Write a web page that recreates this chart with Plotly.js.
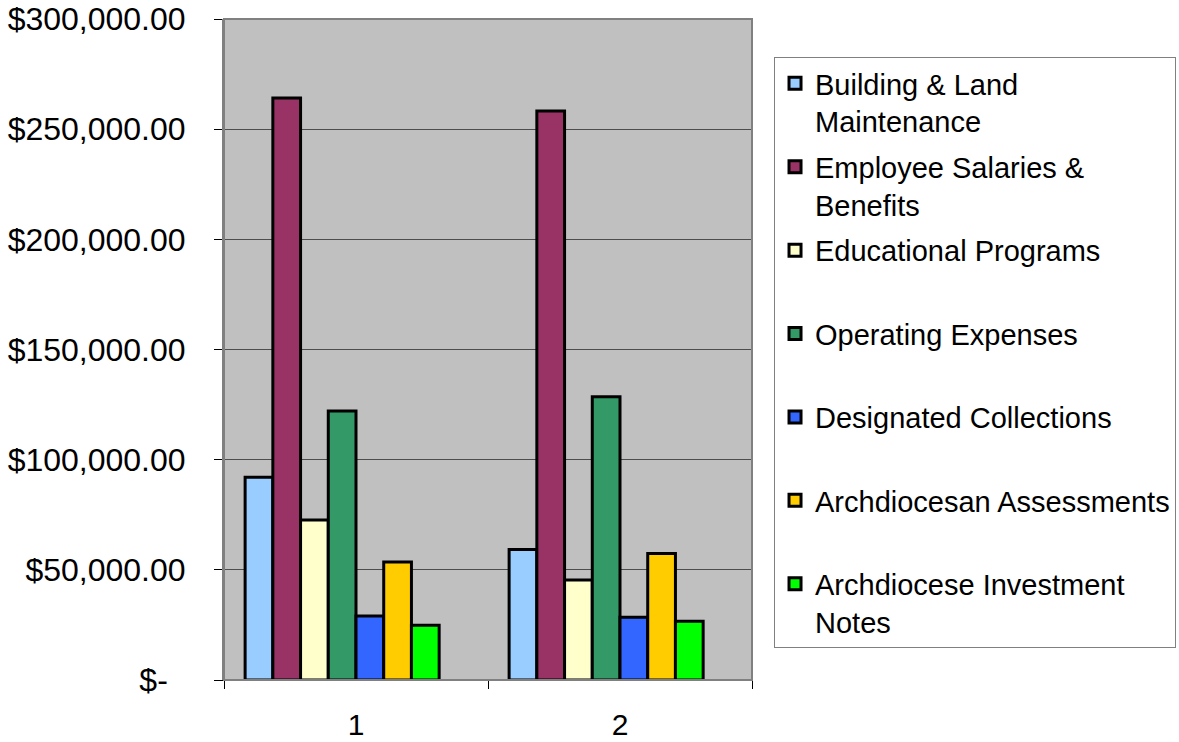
<!DOCTYPE html>
<html>
<head>
<meta charset="utf-8">
<script src="https://cdn.plot.ly/plotly-3.0.1.min.js"></script>
<style>html,body{margin:0;padding:0;background:#fff;}#chart{width:1179px;height:742px;}</style>
</head>
<body>
<div id="chart"></div>
<script>
var categories = ["1", "2"];
var seriesNames = [
  "Building & Land<br>Maintenance",
  "Employee Salaries &<br>Benefits",
  "Educational Programs<br>&nbsp;",
  "Operating Expenses<br>&nbsp;",
  "Designated Collections<br>&nbsp;",
  "Archdiocesan Assessments<br>&nbsp;",
  "Archdiocese Investment<br>Notes"
];
var buildingLand = [92000, 59200];
var employeeSalaries = [264200, 258200];
var educationalPrograms = [72600, 45400];
var operatingExpenses = [122100, 128500];
var designatedCollections = [29000, 28500];
var archdiocesanAssessments = [53600, 57400];
var investmentNotes = [24900, 26700];
var yTickVals = [0, 50000, 100000, 150000, 200000, 250000, 300000];
var yTickText = ["$-\u00a0\u00a0", "$50,000.00", "$100,000.00", "$150,000.00", "$200,000.00", "$250,000.00", "$300,000.00"];

var seriesValues = [buildingLand, employeeSalaries, educationalPrograms, operatingExpenses, designatedCollections, archdiocesanAssessments, investmentNotes];
var colors = ["#99CCFF", "#993366", "#FFFFCC", "#339966", "#3366FF", "#FFCC00", "#00FF00"];

// Excel-style grouping: 8 slots per category (last slot empty), each slot 0.105 of a category
var slotWidth = 0.105;
var slotCount = 8;

var traces = seriesValues.map(function (vals, i) {
  return {
    type: "bar",
    name: seriesNames[i],
    x: categories,
    y: vals,
    width: slotWidth,
    offset: -slotCount / 2 * slotWidth + i * slotWidth,
    legendgroup: "g" + i,
    marker: { color: colors[i], line: { color: "#000000", width: 3 } },
    hoverinfo: "y+name"
  };
});

var font = "Liberation Sans, Arial, sans-serif";
var layout = {
  width: 1179,
  height: 742,
  margin: { l: 224, r: 427, t: 19, b: 62, pad: 0, autoexpand: false },
  paper_bgcolor: "#ffffff",
  plot_bgcolor: "#C0C0C0",
  barmode: "overlay",
  font: { family: font, color: "#000000", size: 29 },
  showlegend: true,
  legend: {
    x: 1.0417, xanchor: "left",
    y: 0.9425, yanchor: "top",
    bgcolor: "#ffffff",
    bordercolor: "#808080",
    borderwidth: 1,
    font: { family: font, size: 29, color: "#000000" },
    valign: "top",
    tracegroupgap: 5,
    itemwidth: 30,
    traceorder: "grouped"
  },
  xaxis: {
    type: "category",
    range: [-0.5, 1.5],
    tickson: "boundaries",
    ticks: "outside",
    ticklen: 8,
    tickcolor: "#000000",
    tickwidth: 1,
    showline: true,
    linecolor: "#000000",
    linewidth: 1,
    showgrid: false,
    zeroline: false,
    tickfont: { family: font, size: 30, color: "#000000" },
    ticklabelstandoff: 18,
    fixedrange: true
  },
  yaxis: {
    range: [0, 300000],
    tickvals: yTickVals,
    ticktext: yTickText,
    ticks: "outside",
    ticklen: 8,
    tickcolor: "#000000",
    tickwidth: 1,
    showline: true,
    linecolor: "#808080",
    linewidth: 2,
    showgrid: true,
    gridcolor: "#4d4d4d",
    gridwidth: 1,
    zeroline: false,
    tickfont: { family: font, size: 32, color: "#000000" },
    ticklabelstandoff: 22,
    fixedrange: true
  },
  shapes: [{
    type: "rect", xref: "paper", yref: "paper",
    x0: 0, x1: 1, y0: 0, y1: 1,
    line: { color: "#808080", width: 2 },
    fillcolor: "rgba(0,0,0,0)",
    layer: "above"
  }]
};

Plotly.newPlot("chart", traces, layout, { displayModeBar: false, staticPlot: true });
</script>
</body>
</html>
